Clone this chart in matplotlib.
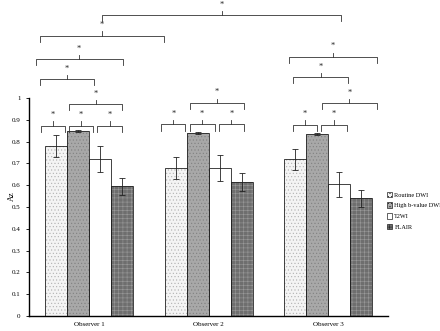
import numpy as np
import matplotlib
matplotlib.use('Agg')
import matplotlib.pyplot as plt

plt.rcParams['font.family'] = ['Liberation Serif', 'DejaVu Serif']
plt.rcParams['hatch.linewidth'] = 0.4

observers = ['Observer 1', 'Observer 2', 'Observer 3']
sequences = ['Routine DWI', 'High b-value DWI', 'T2WI', 'FLAIR']

# Az values per sequence, one entry per observer
az = {
    'Routine DWI':      [0.78, 0.68, 0.72],
    'High b-value DWI': [0.85, 0.84, 0.835],
    'T2WI':             [0.72, 0.68, 0.605],
    'FLAIR':            [0.595, 0.615, 0.54],
}
err = {
    'Routine DWI':      [0.05, 0.05, 0.048],
    'High b-value DWI': [0.005, 0.005, 0.005],
    'T2WI':             [0.058, 0.06, 0.058],
    'FLAIR':            [0.04, 0.042, 0.04],
}

# significance brackets: (x left, x right, height)
brackets = [
    (-0.40, -0.20, 0.873), (-0.167, 0.038, 0.873), (0.072, 0.279, 0.873),
    (-0.167, 0.279, 0.972),
    (-0.41, 0.042, 1.086),
    (-0.444, 0.281, 1.179),
    (-0.41, 0.63, 1.286),
    (0.109, 2.109, 1.381),
    (0.605, 0.806, 0.879), (0.842, 1.051, 0.879), (1.085, 1.294, 0.879),
    (0.842, 1.294, 0.978),
    (1.704, 1.908, 0.878), (1.941, 2.154, 0.878),
    (1.95, 2.405, 0.976),
    (1.707, 2.164, 1.095),
    (1.672, 2.404, 1.189),
]

styles = {
    'Routine DWI':      dict(fc='#f4f4f4', hc='#b0b0b0', hatch='.....'),
    'High b-value DWI': dict(fc='#a8a8a8', hc='#808080', hatch='.....'),
    'T2WI':             dict(fc='white', hc='white', hatch=None),
    'FLAIR':            dict(fc='#6e6e6e', hc='#9a9a9a', hatch='++++'),
}

fig = plt.figure(figsize=(4.4, 3.31), dpi=100)
ax = fig.add_axes([0.066, 0.0453, 0.816, 0.9547])

x = np.arange(len(observers))
w = 0.184
handles = []
for i, s in enumerate(sequences):
    pos = x + (i - 1.5) * w
    st = styles[s]
    ax.bar(pos, az[s], w, color=st['fc'], edgecolor=st['hc'],
           hatch=st['hatch'], linewidth=0, zorder=2)
    ax.bar(pos, az[s], w, fill=False, edgecolor='#222222',
           linewidth=0.6, zorder=3)
    ax.errorbar(pos, az[s], yerr=err[s], fmt='none', ecolor='#222222',
                elinewidth=0.6, capsize=2, capthick=0.6, zorder=4)
    handles.append(plt.Rectangle((0, 0), 1, 1, facecolor=st['fc'],
                                 edgecolor='#222222', hatch=st['hatch'],
                                 linewidth=0.5))

leg = 0.028
for x1, x2, y in brackets:
    ax.plot([x1, x1, x2, x2], [y - leg, y, y, y - leg], color='#333333',
            lw=0.6, clip_on=False, zorder=5)
    xc = (x1 + x2) / 2
    ax.plot([xc, xc], [y, y + 0.02], color='#333333', lw=0.6,
            clip_on=False, zorder=5)
    ax.text(xc, y + 0.03, '*', ha='center', va='bottom', fontsize=6,
            color='#222222')

ax.set_xlim(-0.5, 2.5)
ax.set_ylim(0, 1.45)
ax.set_yticks(np.arange(0, 1.01, 0.1))
ax.set_yticklabels(['0', '0.1', '0.2', '0.3', '0.4', '0.5', '0.6', '0.7',
                    '0.8', '0.9', '1'])
ax.set_xticks(x)
ax.set_xticklabels(observers)
ax.tick_params(axis='x', length=0, labelsize=5, pad=4)
ax.tick_params(axis='y', length=2, width=0.6, labelsize=5, pad=4)
ax.set_ylabel('Az', fontsize=6)
ax.yaxis.set_label_coords(-0.036, 0.38)

for sp in ['top', 'right']:
    ax.spines[sp].set_visible(False)
ax.spines['left'].set_bounds(0, 1)
ax.spines['left'].set_linewidth(1.0)
ax.spines['bottom'].set_linewidth(1.0)

fig.legend(handles, sequences, loc='upper left',
           bbox_to_anchor=(0.872, 0.43), frameon=False, fontsize=4.5,
           handlelength=0.9, handleheight=1.0, handletextpad=0.3,
           labelspacing=0.75, borderpad=0)

fig.savefig('out.png', dpi=100)
